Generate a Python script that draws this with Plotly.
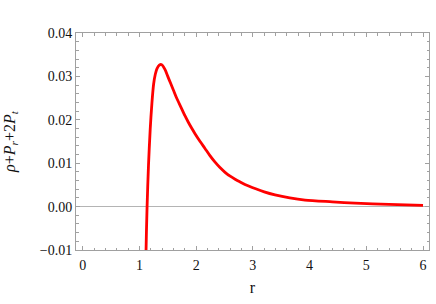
import plotly.graph_objects as go

r_vals = [1.100, 1.117, 1.135, 1.160, 1.190, 1.220, 1.250, 1.280, 1.310, 1.350,
          1.393, 1.450, 1.500, 1.550, 1.600, 1.650, 1.700, 1.750, 1.800, 1.860,
          1.920, 1.980, 2.070, 2.156, 2.240, 2.330, 2.420, 2.510, 2.600, 2.687,
          2.770, 2.860, 3.050, 3.200, 3.390, 3.650, 3.920, 4.400, 4.800, 5.400, 6.000]
y_vals = [-0.0300, -0.0100, 0.0000, 0.0095, 0.0178, 0.0238, 0.0282, 0.0305, 0.0318, 0.0326,
          0.0327, 0.0316, 0.0300, 0.0284, 0.0268, 0.0252, 0.0238, 0.0224, 0.0210, 0.0195,
          0.0181, 0.0168, 0.0150, 0.0134, 0.0118, 0.0103, 0.0090, 0.0079, 0.0070, 0.0063,
          0.0057, 0.0051, 0.0041, 0.0034, 0.0027, 0.0020, 0.0015, 0.0011, 0.0008, 0.0005, 0.0003]

x_ticks = [0, 1, 2, 3, 4, 5, 6]
y_ticks = [-0.01, 0.00, 0.01, 0.02, 0.03, 0.04]

fig = go.Figure()
fig.add_trace(go.Scatter(x=r_vals, y=y_vals, mode="lines",
                         line=dict(color="#ff0000", width=2.8, shape="spline", smoothing=0.8),
                         showlegend=False, hoverinfo="skip", cliponaxis=True))

frame = "#a0a0a0"
font = dict(family="Liberation Serif", size=14, color="#111111")

fig.update_layout(
    width=436, height=304,
    margin=dict(l=76, r=7, t=33, b=54),
    paper_bgcolor="white", plot_bgcolor="white",
    font=font,
    xaxis=dict(range=[-0.118, 6.105], tickvals=x_ticks, ticks="inside", ticklen=4,
               tickcolor=frame, showline=True, linecolor=frame, linewidth=1, mirror="ticks",
               showgrid=False, zeroline=False, automargin=False, ticklabelstandoff=2,
               minor=dict(dtick=0.2, ticks="inside", ticklen=2.5, tickcolor=frame, showgrid=False),
               title=dict(text="r", font=dict(size=16), standoff=10)),
    yaxis=dict(range=[-0.01, 0.04], tickvals=y_ticks, tickformat=".2f", ticks="inside", ticklen=4,
               tickcolor=frame, showline=True, linecolor=frame, linewidth=1, mirror="ticks",
               showgrid=False, zeroline=True, zerolinecolor="#b4b4b4", zerolinewidth=1,
               automargin=False,
               minor=dict(dtick=0.002, ticks="inside", ticklen=2.5, tickcolor=frame, showgrid=False),
               title=dict(text="<i>ρ</i>+<i>P</i><sub><i>r</i></sub>+2<i>P</i><sub><i>t</i></sub>",
                          font=dict(size=16), standoff=20)),
)

fig.write_html("out.html", config={"displayModeBar": False},
               post_script="document.body.style.margin='0';")
